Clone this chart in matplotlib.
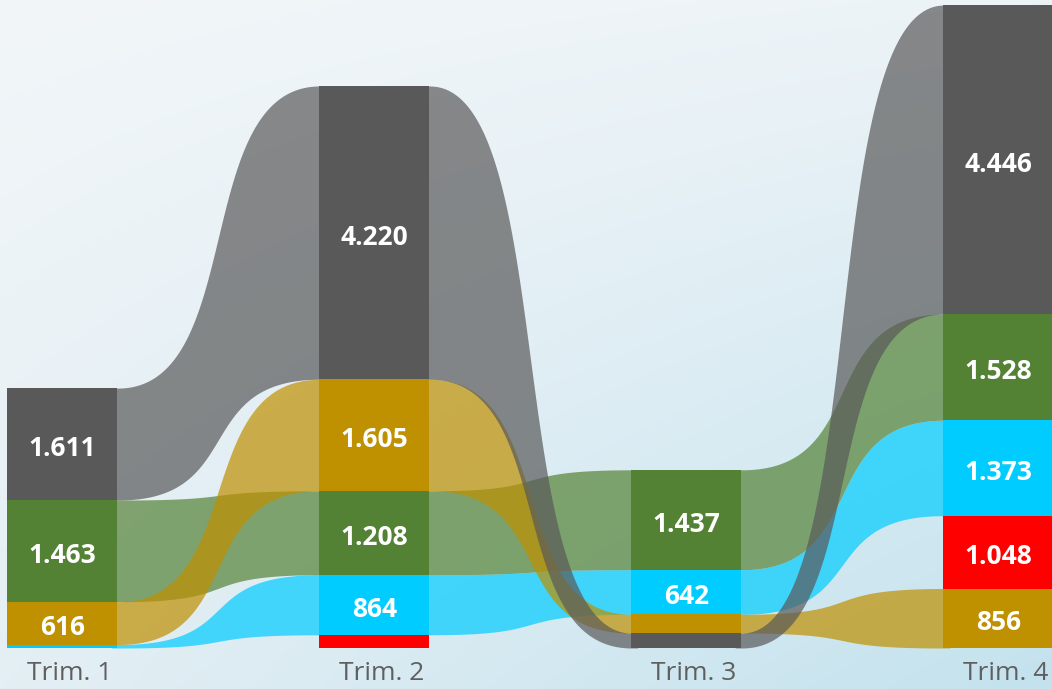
import numpy as np
import matplotlib
matplotlib.use("Agg")
import matplotlib.pyplot as plt
from matplotlib.colors import to_rgb

# data
quarters = ["Trim. 1", "Trim. 2", "Trim. 3", "Trim. 4"]
gray_vals = [1611, 4220, 215, 4446]
green_vals = [1463, 1208, 1437, 1528]
gold_vals = [616, 1605, 270, 856]
cyan_vals = [50, 864, 642, 1373]
red_vals = [0, 190, 0, 1048]

series = {
    "gray": gray_vals,
    "green": green_vals,
    "gold": gold_vals,
    "cyan": cyan_vals,
    "red": red_vals,
}
bar_colors = {"gray": "#595959", "green": "#548235", "gold": "#BF9000",
              "cyan": "#00CCFF", "red": "#FF0000"}
ribbon_order = ["red", "cyan", "green", "gold", "gray"]

plt.rcParams["font.family"] = ["Open Sans", "DejaVu Sans"]

fig = plt.figure(figsize=(10.52, 6.89), dpi=100)
ax = fig.add_axes([0, 0, 1, 1])

n = len(quarters)
x = np.arange(n)
bar_w = 0.3526
ax.set_xlim(-0.2003, 3.1715)
ax.set_ylim(-590, 9324)
ax.axis("off")

# background gradient (bilinear between corners)
tl, tr = np.array(to_rgb("#f2f6f9")), np.array(to_rgb("#ecf3f7"))
bl, br = np.array(to_rgb("#e4eff4")), np.array(to_rgb("#c3e2ee"))
gx, gy = np.meshgrid(np.linspace(0, 1, 200), np.linspace(0, 1, 200))
gx, gy = gx[..., None], gy[..., None]
img = (tl * (1 - gx) * (1 - gy) + tr * gx * (1 - gy)
       + bl * (1 - gx) * gy + br * gx * gy)
ax.imshow(img, extent=[0, 1, 0, 1], transform=ax.transAxes, aspect="auto",
          zorder=0, interpolation="bilinear")

# stack positions: largest on top, smallest at the bottom
bottoms = {k: [0.0] * n for k in series}
for i in range(n):
    order = sorted(series, key=lambda k: series[k][i])
    acc = 0.0
    for k in order:
        bottoms[k][i] = acc
        acc += series[k][i]


def bezier(p0, p1, p2, p3, t):
    return ((1 - t) ** 3 * p0 + 3 * (1 - t) ** 2 * t * p1
            + 3 * (1 - t) * t ** 2 * p2 + t ** 3 * p3)


t = np.linspace(0, 1, 300)
k = 0.64
pad = 0.02  # tuck ribbon ends under the bars so no seam shows
for name in ribbon_order:
    vals = series[name]
    for i in range(n - 1):
        if vals[i] <= 0 or vals[i + 1] <= 0:
            continue
        x0 = x[i] + bar_w / 2
        x1 = x[i + 1] - bar_w / 2
        dx = x1 - x0
        xs = bezier(x0, x0 + k * dx, x1 - k * dx, x1, t)
        b0, b1 = bottoms[name][i], bottoms[name][i + 1]
        lo = bezier(b0, b0, b1, b1, t)
        hi = bezier(b0 + vals[i], b0 + vals[i], b1 + vals[i + 1], b1 + vals[i + 1], t)
        xs = np.concatenate([[x0 - pad], xs, [x1 + pad]])
        lo = np.concatenate([[lo[0]], lo, [lo[-1]]])
        hi = np.concatenate([[hi[0]], hi, [hi[-1]]])
        ax.fill_between(xs, lo, hi, color=bar_colors[name], alpha=0.7,
                        linewidth=0, zorder=2)

# bars and labels
for name, vals in series.items():
    ax.bar(x, vals, width=bar_w, bottom=bottoms[name], color=bar_colors[name],
           linewidth=0, zorder=3)
    for i, v in enumerate(vals):
        if v >= 400:
            ax.text(x[i], bottoms[name][i] + v / 2 - 65, f"{v:,}".replace(",", "."),
                    ha="center", va="center", color="white", fontsize=19,
                    fontweight="bold", zorder=4)

for i, q in enumerate(quarters):
    ax.text(x[i] + 0.024, -360, q, ha="center", va="center", color="#5f5f5f",
            fontsize=19, zorder=4)

fig.savefig("out.png", dpi=100)
